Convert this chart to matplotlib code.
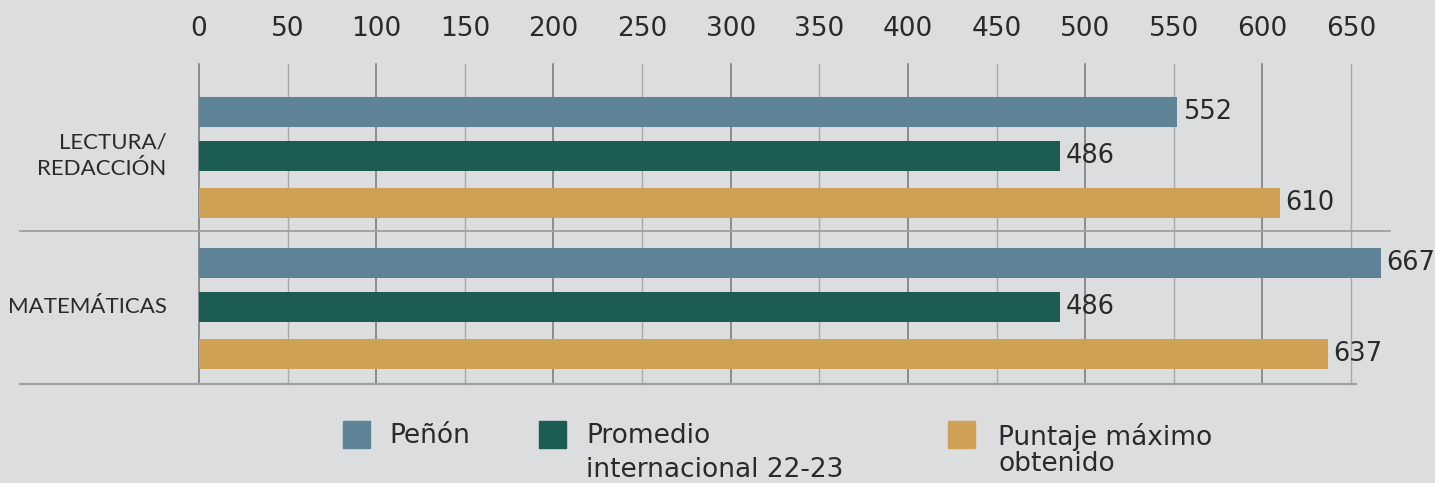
import numpy as np
import matplotlib.pyplot as plt
from matplotlib.patches import Rectangle

categories = ['LECTURA/\nREDACCIÓN', 'MATEMÁTICAS']
series_names = ['Peñón', 'Promedio\ninternacional 22-23', 'Puntaje máximo\nobtenido']
penon = [552, 667]
promedio = [486, 486]
maximo = [610, 637]
ticks = list(range(0, 651, 50))

colors = ['#5e8397', '#1d5c53', '#cfa155']
bg = '#dcdddf'
txt = '#2a2a2a'
num_font = 'DejaVu Sans'
cat_font = 'Lato'

fig = plt.figure(figsize=(14.35, 4.83), dpi=100, facecolor=bg)
ax = fig.add_axes([199/1435, 1 - 384/483, 1152/1435, 320/483])
ax.set_facecolor(bg)

offsets = [-0.29, 0.0, 0.31]
bar_h = 0.2
y = np.arange(len(categories))
for vals, off, c in zip([penon, promedio, maximo], offsets, colors):
    bars = ax.barh(y + off, vals, height=bar_h, color=c, zorder=3, clip_on=False)
    for b, v in zip(bars, vals):
        ax.annotate(str(v), (v, b.get_y() + b.get_height() / 2),
                    xytext=(4, 0), textcoords='offset points',
                    va='center', ha='left', fontsize=18.5,
                    color=txt, family=num_font, annotation_clip=False)

ax.set_xlim(0, 650)
ax.set_ylim(1.51, -0.61)

# vertical grid
for t in ticks:
    col = '#7f7f7f' if t % 100 == 0 else '#a9a9a9'
    ax.axvline(t, color=col, lw=1.2 if t % 100 == 0 else 1.0, zorder=1, clip_on=False)

# separators between categories
ax.axhline(0.497, xmin=-0.155, xmax=1.034, color='#a0a0a0', lw=1.3, clip_on=False, zorder=1)
ax.axhline(1.51, xmin=-0.155, xmax=1.004, color='#a0a0a0', lw=1.6, clip_on=False, zorder=1)

ax.xaxis.tick_top()
ax.set_xticks(ticks)
ax.set_xticklabels([str(t) for t in ticks], fontsize=19, color=txt, family=num_font)
ax.tick_params(axis='x', length=0, pad=16)
ax.set_yticks([])
for s in ax.spines.values():
    s.set_visible(False)

trans = ax.get_yaxis_transform()
for yi, cat in zip(y, categories):
    ax.text(-0.028, yi, cat, transform=trans, ha='right', va='center',
            fontsize=16, color=txt, family=cat_font, linespacing=1.4)

# legend drawn by hand
leg_x = [343, 539, 948]
text_x = [389, 586, 998]
spacing = [1.0, 1.4, 0.98]
for lx, tx, c, name, ls in zip(leg_x, text_x, colors, series_names, spacing):
    fig.patches.append(Rectangle((lx / 1435, 1 - 448 / 483), 27 / 1435, 27 / 483,
                                 transform=fig.transFigure, color=c))
    fig.text(tx / 1435, 1 - 423 / 483, name, ha='left', va='top',
             fontsize=19, color=txt, family=num_font, linespacing=ls)

fig.savefig('out.png', dpi=100, facecolor=bg)
